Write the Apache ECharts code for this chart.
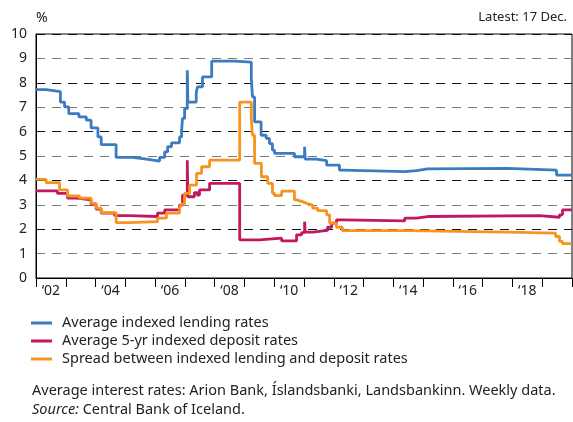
<!DOCTYPE html>
<html>
<head>
<meta charset="utf-8">
<script src="https://cdn.jsdelivr.net/npm/echarts@6/dist/echarts.min.js"></script>
<style>
  html, body { margin: 0; padding: 0; background: #fff; }
  #chart { width: 573px; height: 422px; }
</style>
</head>
<body>
<div id="chart"></div>
<script>
// Year bands shown on the time axis (labels on every other year)
var yearLabels = ['\u201802','\u201803','\u201804','\u201805','\u201806','\u201807','\u201808','\u201809','\u201810',
                  '\u201811','\u201812','\u201813','\u201814','\u201815','\u201816','\u201817','\u201818','\u201819'];
var yTicks = [0, 1, 2, 3, 4, 5, 6, 7, 8, 9, 10];

// Average indexed lending rates (%), decimal year where each level starts
var lendingT = [2002.00, 2002.34, 2002.82, 2002.96, 2003.10, 2003.44, 2003.69, 2003.85, 2004.08, 2004.19,
                2004.69, 2005.24, 2005.71, 2006.15, 2006.32, 2006.42, 2006.55, 2006.82, 2006.89, 2006.92,
                2006.99, 2007.08, 2007.10, 2007.38, 2007.42, 2007.59, 2007.90, 2008.67, 2009.23, 2009.27,
                2009.34, 2009.56, 2009.73, 2009.84, 2009.94, 2010.01, 2010.68, 2011.02, 2011.04, 2011.42,
                2011.76, 2012.19, 2012.30, 2014.38, 2014.78, 2015.15, 2017.84, 2019.48, 2019.99];
var lendingV = [7.72, 7.64, 7.21, 7.01, 6.74, 6.60, 6.47, 6.15, 5.78, 5.47,
                4.94, 4.87, 4.79, 4.94, 5.17, 5.38, 5.54, 5.78, 6.06, 6.54,
                6.94, 8.51, 7.21, 7.58, 7.83, 8.24, 8.89, 8.85, 8.17, 7.42,
                6.40, 5.85, 5.72, 5.51, 5.24, 5.11, 4.97, 5.38, 4.87, 4.81,
                4.63, 4.42, 4.36, 4.40, 4.47, 4.49, 4.42, 4.22, 4.22];

// Average 5-yr indexed deposit rates (%)
var depositT = [2002.00, 2002.72, 2003.06, 2003.35, 2003.85, 2004.02, 2004.19, 2004.64, 2005.14, 2006.08,
                2006.32, 2006.82, 2006.92, 2007.08, 2007.10, 2007.32, 2007.42, 2007.49, 2007.83, 2008.84,
                2009.51, 2010.25, 2010.75, 2010.92, 2011.02, 2011.04, 2011.29, 2011.79, 2011.93, 2012.09,
                2012.30, 2014.38, 2014.78, 2015.15, 2018.91, 2019.58, 2019.68, 2019.99];
var depositV = [3.57, 3.47, 3.27, 3.20, 3.02, 2.82, 2.66, 2.56, 2.52, 2.66,
                2.79, 2.99, 3.40, 4.83, 3.33, 3.50, 3.40, 3.61, 3.88, 1.56,
                1.63, 1.52, 1.77, 1.86, 2.31, 1.88, 1.95, 2.08, 2.25, 2.38,
                2.34, 2.45, 2.52, 2.56, 2.49, 2.59, 2.79, 2.79];

// Spread between indexed lending and deposit rates (%)
var spreadT = [2002.00, 2002.34, 2002.79, 2003.06, 2003.46, 2003.85, 2004.02, 2004.19, 2004.69, 2005.14,
               2006.08, 2006.38, 2006.82, 2006.88, 2006.99, 2007.16, 2007.39, 2007.56, 2007.83, 2008.84,
               2009.23, 2009.27, 2009.34, 2009.57, 2009.78, 2009.94, 2010.01, 2010.25, 2010.68, 2010.75,
               2010.95, 2011.09, 2011.29, 2011.46, 2011.76, 2011.86, 2012.09, 2012.29, 2014.48, 2017.84,
               2019.45, 2019.58, 2019.68, 2019.99];
var spreadV = [4.04, 3.91, 3.61, 3.36, 3.27, 3.06, 2.86, 2.68, 2.27, 2.31,
               2.45, 2.66, 2.85, 3.03, 3.47, 3.81, 4.29, 4.56, 4.83, 7.21,
               6.54, 5.85, 4.70, 4.15, 3.88, 3.47, 3.38, 3.56, 3.20, 3.13,
               3.06, 2.99, 2.86, 2.76, 2.59, 2.25, 2.08, 1.94, 1.88, 1.84,
               1.70, 1.50, 1.41, 1.41];

var seriesNames = ['Average indexed lending rates',
                   'Average 5-yr indexed deposit rates',
                   'Spread between indexed lending and deposit rates'];
var seriesColors = ['#3b7bc0', '#c2185f', '#f7941e'];

function pairs(t, v) { return t.map(function (x, i) { return [x, v[i]]; }); }

var FONT = '"Noto Sans", sans-serif';
var chart = echarts.init(document.getElementById('chart'), null, { renderer: 'canvas' });

function lineSeries(idx, t, v) {
  return {
    name: seriesNames[idx],
    type: 'line',
    xAxisIndex: 1,
    step: 'end',
    showSymbol: false,
    symbol: 'none',
    animation: false,
    data: pairs(t, v),
    lineStyle: { color: seriesColors[idx], width: 2.8 },
    itemStyle: { color: seriesColors[idx] },
    z: 3 + idx
  };
}

chart.setOption({
  animation: false,
  backgroundColor: '#fff',
  textStyle: { fontFamily: FONT },
  grid: { left: 36, right: 1, top: 34, bottom: 144, show: true, borderColor: '#000', borderWidth: 1 },
  xAxis: [
    {
      type: 'category',
      data: yearLabels,
      boundaryGap: true,
      axisLine: { show: true, lineStyle: { color: '#000', width: 1 } },
      axisTick: { show: true, interval: 0, length: 9, lineStyle: { color: '#000' } },
      axisLabel: { interval: 1, color: '#222', fontSize: 14, fontFamily: FONT, margin: 6 },
      splitLine: { show: false }
    },
    { type: 'value', min: 2002, max: 2020, show: false }
  ],
  yAxis: {
    type: 'value',
    min: yTicks[0],
    max: yTicks[yTicks.length - 1],
    interval: 1,
    axisLine: { show: true, lineStyle: { color: '#000', width: 1 } },
    axisTick: { show: false },
    axisLabel: { color: '#222', fontSize: 14, fontFamily: FONT, margin: 9 },
    splitLine: { show: true, lineStyle: { color: ['#111', '#7a7a7a'], type: [9, 7], width: 1 } }
  },
  legend: {
    orient: 'vertical',
    left: 31,
    top: 315,
    padding: 0,
    itemWidth: 21,
    itemHeight: 3,
    itemGap: 2,
    icon: 'rect',
    selectedMode: false,
    data: seriesNames,
    textStyle: { color: '#222', fontSize: 14.5, fontFamily: FONT, lineHeight: 16, padding: [0, 0, 0, 5] }
  },
  graphic: [
    { type: 'text', left: 36, top: 11, style: { text: '%', fontSize: 14, fontFamily: FONT, fill: '#222' } },
    { type: 'text', right: 6, top: 11, style: { text: 'Latest: 17 Dec.', fontSize: 13, fontFamily: FONT, fill: '#222' } },
    { type: 'text', left: 32, top: 383, style: {
        text: 'Average interest rates: Arion Bank, \u00cdslandsbanki, Landsbankinn. Weekly data.',
        fontSize: 14.5, fontFamily: FONT, fill: '#222' } },
    { type: 'text', left: 32, top: 402, style: {
        text: '{i|Source:} Central Bank of Iceland.',
        fontSize: 14.5, fontFamily: FONT, fill: '#222',
        rich: { i: { fontStyle: 'italic', fontSize: 14.5, fontFamily: FONT, fill: '#222' } } } }
  ],
  series: [
    lineSeries(0, lendingT, lendingV),
    lineSeries(1, depositT, depositV),
    lineSeries(2, spreadT, spreadV)
  ]
});
</script>
</body>
</html>
